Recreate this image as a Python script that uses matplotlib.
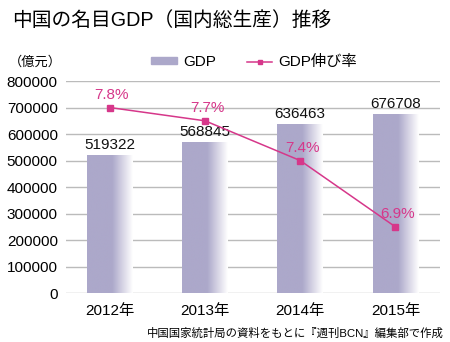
import numpy as np
import matplotlib.pyplot as plt
from matplotlib.colors import LinearSegmentedColormap
from matplotlib.lines import Line2D
from matplotlib.patches import Patch

plt.rcParams['font.family'] = ['Liberation Sans', 'Noto Sans CJK JP', 'DejaVu Sans']

years = ["2012年", "2013年", "2014年", "2015年"]
gdp = [519322, 568845, 636463, 676708]
growth = [7.8, 7.7, 7.4, 6.9]
growth_labels = ["7.8%", "7.7%", "7.4%", "6.9%"]
yticks = [0, 100000, 200000, 300000, 400000, 500000, 600000, 700000, 800000]

bar_col = "#aca8ca"
line_col = "#d6378a"

fig = plt.figure(figsize=(4.5, 3.42), dpi=100)
ax = fig.add_axes([0.147, 0.143, 0.831, 0.62])
x = np.arange(len(years))

# bars with a fade to white on the right side
cmap = LinearSegmentedColormap.from_list("fade", [(0, bar_col), (0.55, bar_col), (1, "#ffffff")])
grad = np.linspace(0, 1, 256).reshape(1, -1)
bars = ax.bar(x, gdp, width=0.48, color="none", zorder=2)
for b in bars:
    im = ax.imshow(grad, cmap=cmap, aspect="auto", zorder=2,
                   extent=[b.get_x(), b.get_x() + b.get_width(), 0, b.get_height()])
    im.set_clip_path(b)
for xi, v in zip(x, gdp):
    ax.text(xi, v + 12000, str(v), ha="center", va="bottom", fontsize=11, color="#111111")

ax.set_xlim(-0.46, 3.47)
ax.set_ylim(0, 800000)
ax.set_yticks(yticks)
ax.set_yticklabels([str(t) for t in yticks], fontsize=11)
ax.set_xticks(x)
ax.set_xticklabels(years, fontsize=11)
ax.tick_params(axis="y", length=0, pad=6)
ax.tick_params(axis="x", length=0, pad=8)
ax.grid(axis="y", color="#bbbbbb", lw=1, zorder=0)
ax.set_axisbelow(True)
for s in ax.spines.values():
    s.set_visible(False)

# growth rate line on a hidden second axis
ax2 = ax.twinx()
ax2.set_ylim(6.4, 8.0)
ax2.plot(x, growth, color=line_col, lw=1.1, marker="s", ms=4, zorder=4)
for xi, g, lab in zip(x, growth, growth_labels):
    ax2.text(xi + 0.02, g + 0.045, lab, ha="center", va="bottom", fontsize=11, color=line_col)
ax2.set_yticks([])
for s in ax2.spines.values():
    s.set_visible(False)

fig.text(0.027, 0.94, "中国の名目GDP（国内総生産）推移", fontsize=14.2, va="center", ha="left")
fig.text(0.02, 0.818, "（億元）", fontsize=9.5, va="center", ha="left")

handles = [Patch(color=bar_col), Line2D([], [], color=line_col, marker="s", ms=3, lw=1.1)]
fig.legend(handles, ["GDP", "GDP伸び率"], loc="center left", bbox_to_anchor=(0.305, 0.818),
           ncol=2, frameon=False, fontsize=11, handlelength=1.7, handleheight=0.35,
           columnspacing=2.0, handletextpad=0.4)

fig.text(0.985, 0.025, "中国国家統計局の資料をもとに『週刊BCN』編集部で作成", fontsize=8.2,
         ha="right", va="center")

fig.savefig("out.png", dpi=100)
